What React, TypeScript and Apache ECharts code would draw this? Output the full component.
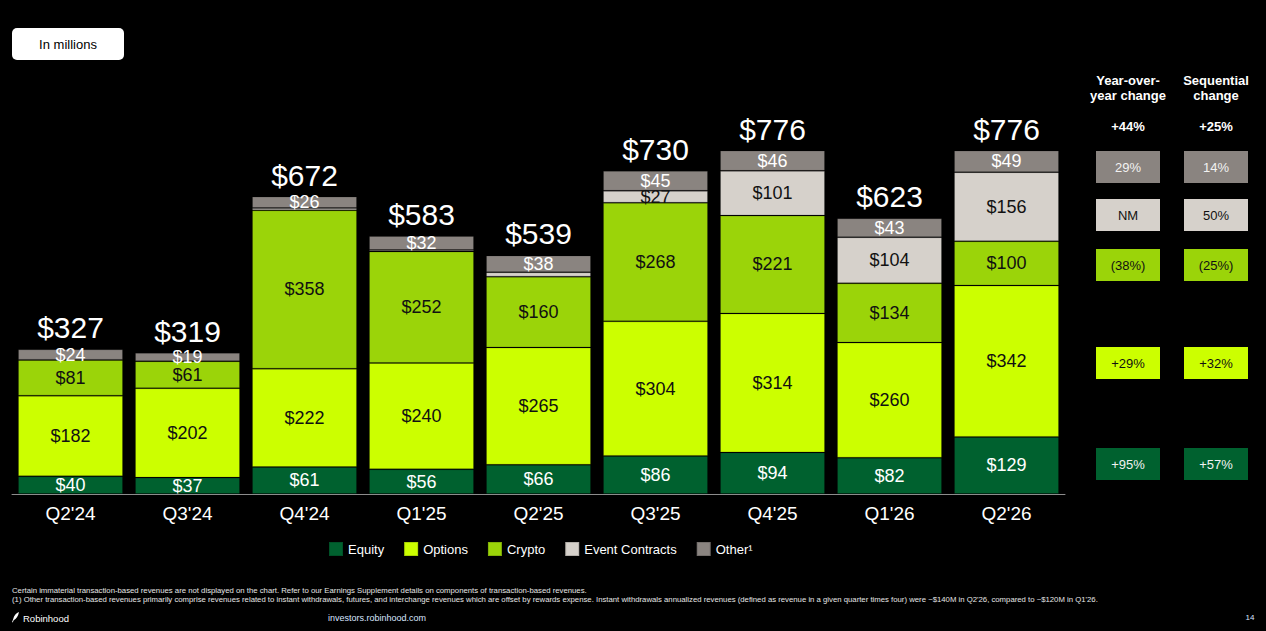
import React, { useEffect, useRef } from "react";
import * as echarts from "echarts";

// Transaction-based revenues by quarter, in millions of dollars
const quarters = ["Q2'24", "Q3'24", "Q4'24", "Q1'25", "Q2'25", "Q3'25", "Q4'25", "Q1'26", "Q2'26"];
const equity = [40, 37, 61, 56, 66, 86, 94, 82, 129];
const optionsRev = [182, 202, 222, 240, 265, 304, 314, 260, 342];
const crypto = [81, 61, 358, 252, 160, 268, 221, 134, 100];
const eventContracts = [0, 0, 5, 3, 10, 27, 101, 104, 156];
const other = [24, 19, 26, 32, 38, 45, 46, 43, 49];

const seriesNames = ["Equity", "Options", "Crypto", "Event Contracts", "Other¹"];

// Change table, rows from top: Other, Event Contracts, Crypto, Options, Equity
const totalYoy = "+44%";
const totalSeq = "+25%";
const yoyChanges = ["29%", "NM", "(38%)", "+29%", "+95%"];
const seqChanges = ["14%", "50%", "(25%)", "+32%", "+57%"];

const footnote1 =
  "Certain immaterial transaction-based revenues are not displayed on the chart. Refer to our Earnings Supplement details on components of transaction-based revenues.";
const footnote2 =
  "(1) Other transaction-based revenues primarily comprise revenues related to instant withdrawals, futures, and interchange revenues which are offset by rewards expense. Instant withdrawals annualized revenues (defined as revenue in a given quarter times four) were ~$140M in Q2'26, compared to ~$120M in Q1'26.";

const FONT = "'Liberation Sans', Arial, Helvetica, sans-serif";

const COLORS = {
  equity: "#00612f",
  options: "#ccff00",
  crypto: "#9bd409",
  event: "#d6d1cb",
  other: "#8a8480",
};

echarts.graphic.registerShape(
  "feather",
  echarts.graphic.extendPath(
    "M10 0 C6 1 3 4 1.6 8.4 L0 12 L1.2 12 L2.4 9.6 C6 8.6 8.8 5 10 0 Z",
    {}
  )
);

const totals = quarters.map(
  (_, i) => equity[i] + optionsRev[i] + crypto[i] + eventContracts[i] + other[i]
);

function segment(name: string, data: number[], color: string, labelColor: string) {
  return {
    name,
    type: "bar",
    stack: "revenue",
    data,
    barWidth: 105,
    itemStyle: { color, borderColor: "rgba(0,0,0,0.16)", borderWidth: 1 },
    label: {
      show: true,
      position: "inside",
      color: labelColor,
      fontSize: 18,
      fontFamily: FONT,
      formatter: (p: any) => (p.value >= 15 ? "$" + p.value : ""),
    },
    emphasis: { disabled: true },
  };
}

function txt(text: string, x: number, y: number, size: number, fill: string, weight = "normal", align = "center") {
  return {
    type: "text",
    style: {
      text,
      x,
      y,
      fill,
      font: `${weight} ${size}px ${FONT}`,
      textAlign: align,
      align,
      textVerticalAlign: "middle",
      verticalAlign: "middle",
    },
  };
}

function buildGraphic() {
  const els: any[] = [];
  // "In millions" tag
  els.push({
    type: "rect",
    shape: { x: 12, y: 28, width: 112, height: 32, r: 5 },
    style: { fill: "#ffffff" },
  });
  els.push(txt("In millions", 68, 44, 13, "#000000"));

  // Change table headers
  const colYoy = 1128;
  const colSeq = 1216;
  els.push(txt("Year-over-", colYoy, 80, 13, "#ffffff", "bold"));
  els.push(txt("year change", colYoy, 95, 13, "#ffffff", "bold"));
  els.push(txt("Sequential", colSeq, 80, 13, "#ffffff", "bold"));
  els.push(txt("change", colSeq, 95, 13, "#ffffff", "bold"));
  els.push(txt(totalYoy, colYoy, 126, 13, "#ffffff", "bold"));
  els.push(txt(totalSeq, colSeq, 126, 13, "#ffffff", "bold"));

  const rowTops = [151, 199, 249, 347, 448];
  const rowFills = [COLORS.other, COLORS.event, COLORS.crypto, COLORS.options, COLORS.equity];
  const rowText = ["#f2f2f2", "#111111", "#111111", "#111111", "#f2f2f2"];
  rowTops.forEach((top, i) => {
    els.push({ type: "rect", shape: { x: 1096, y: top, width: 64, height: 32 }, style: { fill: rowFills[i] } });
    els.push({ type: "rect", shape: { x: 1184, y: top, width: 64, height: 32 }, style: { fill: rowFills[i] } });
    els.push(txt(yoyChanges[i], colYoy, top + 16, 13, rowText[i]));
    els.push(txt(seqChanges[i], colSeq, top + 16, 13, rowText[i]));
  });

  // Footnotes
  els.push(txt(footnote1, 12, 590, 7.75, "#e6e6e6", "normal", "left"));
  els.push(txt(footnote2, 12, 599, 7.75, "#e6e6e6", "normal", "left"));

  // Footer
  els.push({ type: "feather", x: 12, y: 612, scaleX: 0.7, scaleY: 0.85, style: { fill: "#ffffff" } });
  els.push(txt("Robinhood", 23, 618, 9.5, "#ffffff", "normal", "left"));
  els.push(txt("investors.robinhood.com", 328, 618, 9, "#d8e6ff", "normal", "left"));
  els.push(txt("14", 1250, 617, 8, "#d8e6ff"));
  return els;
}

export default function App() {
  const ref = useRef<HTMLDivElement>(null);

  useEffect(() => {
    if (!ref.current) return;
    const chart = echarts.init(ref.current, undefined, { renderer: "svg" });
    chart.setOption({
      animation: false,
      backgroundColor: "#000000",
      textStyle: { fontFamily: FONT },
      grid: { left: 12, top: 150.5, width: 1053, height: 343.5, containLabel: false },
      legend: {
        data: seriesNames,
        left: 323,
        top: 536,
        icon: "rect",
        itemWidth: 14,
        itemHeight: 14,
        itemGap: 19,
        selectedMode: false,
        textStyle: { color: "#ffffff", fontSize: 13, fontFamily: FONT },
      },
      xAxis: {
        type: "category",
        data: quarters,
        axisLine: { show: true, lineStyle: { color: "#8c8c8c", width: 1 } },
        axisTick: { show: false },
        axisLabel: { color: "#ffffff", fontSize: 19, margin: 10, fontFamily: FONT },
      },
      yAxis: {
        type: "value",
        min: 0,
        max: 776,
        show: false,
        splitLine: { show: false },
      },
      series: [
        segment(seriesNames[0], equity, COLORS.equity, "#ffffff"),
        segment(seriesNames[1], optionsRev, COLORS.options, "#111111"),
        segment(seriesNames[2], crypto, COLORS.crypto, "#111111"),
        segment(seriesNames[3], eventContracts, COLORS.event, "#111111"),
        segment(seriesNames[4], other, COLORS.other, "#ffffff"),
        {
          name: "Total",
          type: "scatter",
          data: totals,
          symbol: "rect",
          symbolSize: 1,
          itemStyle: { color: "rgba(0,0,0,0)", opacity: 1 },
          silent: true,
          z: 10,
          label: {
            show: true,
            position: "top",
            distance: 6,
            color: "#ffffff",
            opacity: 1,
            fontSize: 30,
            fontFamily: FONT,
            formatter: (p: any) => "$" + p.value,
          },
        },
      ],
      graphic: buildGraphic(),
    });
    return () => chart.dispose();
  }, []);

  return (
    <div
      ref={ref}
      style={{ position: "fixed", left: 0, top: 0, width: 1266, height: 631, background: "#000" }}
    />
  );
}
